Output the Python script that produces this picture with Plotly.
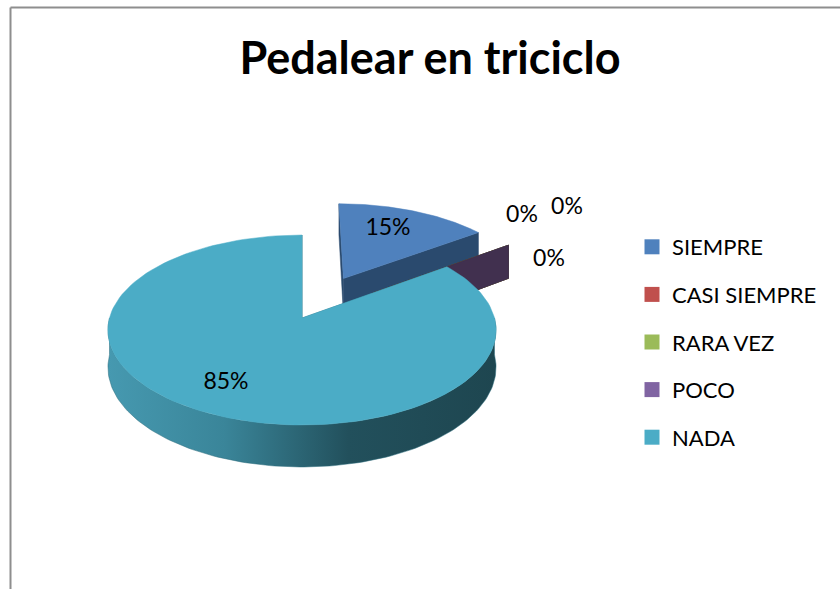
import numpy as np
import plotly.graph_objects as go

# --- data ---------------------------------------------------------------
title = "Pedalear en triciclo"
categories = ["SIEMPRE", "CASI SIEMPRE", "RARA VEZ", "POCO", "NADA"]
values = [15, 0, 0, 0, 85]

# --- styles -------------------------------------------------------------
top_colors = ["#4F81BD", "#C0504D", "#9BBB59", "#8064A2", "#4BACC6"]
side_colors = ["#2A4A6E", "#7B2F2D", "#5F7535", "#41304F", "#2C6C7D"]
explode = [0.5, 0.47, 0.47, 0.47, 0.0]
label_xy = [(388, 229), (522, 216), (567, 208), (549, 260), (226, 383)]
wall_scale = [[0.0, "#4699B0"], [0.3, "#3A8599"], [0.62, "#22505C"], [1.0, "#1E4650"]]

W, H = 840, 589
FONT = "Lato"

# perspective view of the pie disc: unit disc (X right, Z away from viewer)
# mapped to the screen with a simple projective transform
CX, V0 = 302.0, 318.0      # screen position of the disc centre
P, S, Q = 192.5, -53.3, 0.1263
THICK = 36.7               # disc thickness before perspective


def proj(X, Z, down=0.0):
    den = 1.0 + Q * Z
    return CX + P * X / den, (V0 + S * Z + down) / den


def rim_xz(theta, ox, oz):
    t = np.radians(theta)
    return ox + np.sin(t), oz + np.cos(t)


def arc(t0, t1, ox, oz, down=0.0, n=140):
    X, Z = rim_xz(np.linspace(t0, t1, n), ox, oz)
    u, v = proj(X, Z, down)
    return list(u), list(v)


def poly(xs, ys, color, gradient=None):
    kw = dict(
        x=xs + [xs[0]], y=ys + [ys[0]], mode="lines", fill="toself",
        fillcolor=color, line=dict(width=0.5, color=color),
        hoverinfo="skip", showlegend=False,
    )
    if gradient is not None:
        kw["fillgradient"] = dict(type="horizontal", colorscale=gradient)
    return go.Scatter(**kw)


total = float(sum(values))
bounds = np.concatenate([[0.0], np.cumsum(values) / total * 360.0])

traces = []
for i, v in enumerate(values):
    s, e = bounds[i], bounds[i + 1]
    m = np.radians((s + e) / 2.0)
    ox, oz = explode[i] * np.sin(m), explode[i] * np.cos(m)
    cu, cv = proj(ox, oz)
    cu2, cv2 = proj(ox, oz, THICK)

    # radial cut faces
    for phi in (s, e):
        X, Z = rim_xz(phi, ox, oz)
        ru, rv = proj(X, Z)
        ru2, rv2 = proj(X, Z, THICK)
        traces.append(poly([cu, ru, ru2, cu2], [cv, rv, rv2, cv2], side_colors[i]))

    # outer wall (front half only)
    lo, hi = max(s, 90.0), min(e, 270.0)
    if hi > lo:
        tx, ty = arc(lo, hi, ox, oz)
        bx, by = arc(hi, lo, ox, oz, THICK)
        grad = wall_scale if i == len(values) - 1 else None
        traces.append(poly(tx + bx, ty + by, side_colors[i], grad))

    # top face
    if e > s:
        tx, ty = arc(s, e, ox, oz)
        traces.append(poly([cu] + tx, [cv] + ty, top_colors[i]))

# percentage labels
pct = [f"{round(100 * v / total)}%" for v in values]
traces.append(go.Scatter(
    x=[p[0] for p in label_xy], y=[p[1] for p in label_xy], text=pct,
    mode="text", textposition="middle center",
    textfont=dict(family=FONT, size=23, color="#000000"),
    hoverinfo="skip", showlegend=False,
))

# legend entries
for cat, col in zip(categories, top_colors):
    traces.append(go.Scatter(
        x=[None], y=[None], mode="markers", name=cat, legendgroup=cat,
        marker=dict(symbol="square", size=15, color=col),
    ))

fig = go.Figure(traces)
fig.update_layout(
    width=W, height=H,
    margin=dict(l=0, r=0, t=0, b=0),
    paper_bgcolor="white", plot_bgcolor="white",
    xaxis=dict(range=[0, W], visible=False, fixedrange=True),
    yaxis=dict(range=[H, 0], visible=False, fixedrange=True),
    title=dict(
        text=title, x=430 / W, y=1 - 58 / H, xanchor="center", yanchor="middle",
        font=dict(family=FONT, size=45, color="#000000", weight="bold"),
    ),
    legend=dict(
        x=632 / W, y=1 - 226 / H, xanchor="left", yanchor="top",
        font=dict(family=FONT, size=22, color="#000000"),
        tracegroupgap=16, bgcolor="rgba(0,0,0,0)",
    ),
    shapes=[
        dict(type="line", x0=10.5, x1=W + 5, y0=7.5, y1=7.5, line=dict(color="#8E8E8E", width=2)),
        dict(type="line", x0=10.5, x1=10.5, y0=7.5, y1=H + 5, line=dict(color="#8E8E8E", width=2)),
    ],
)
fig.write_html("out.html")
